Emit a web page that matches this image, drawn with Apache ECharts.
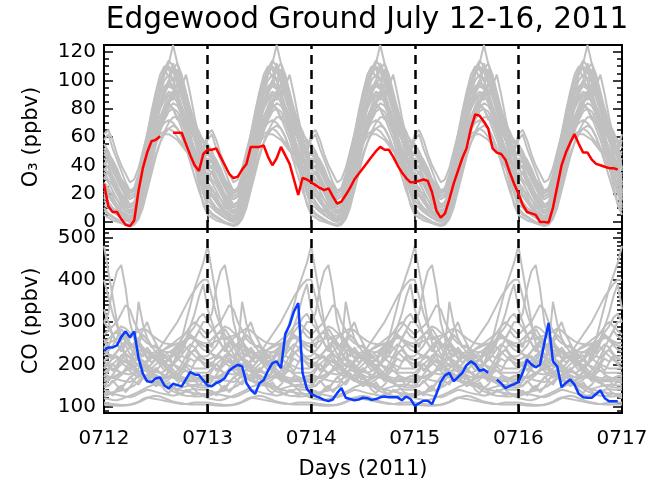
<!DOCTYPE html>
<html>
<head>
<meta charset="utf-8">
<script src="https://cdn.jsdelivr.net/npm/echarts@6/dist/echarts.min.js"></script>
<style>
  html, body { margin: 0; padding: 0; background: #fff; }
  #chart-container { width: 652px; height: 484px; }
</style>
</head>
<body>
<div id="chart-container"></div>
<script>
// day labels on the bottom axis
var dayLabels = ['0712', '0713', '0714', '0715', '0716', '0717'];
var dayMarks = [24, 48, 72, 96];

// observed O3 (ppbv), hourly from 0712 00h, null = missing
var o3Obs = [27, 11, 7, 7, 2, -2, -3, 1, 22, 38, 49, 57, 58, 60.5, null, null, 63, 63, 63, 55, 47, 40, 36, 48,
  51, 51, 52, 46, 40, 34, 31, 32, 37, 41, 53, 53, 53, 54, 46, 40, 45, 53, 47, 41, 30, 19, 31, 30,
  28, 26, 24, 22.5, 23.7, 18, 13, 14.3, 19, 24, 30, 34, 38, 42, 46, 50, 53, 51, 51, 46, 40, 35, 31, 28,
  28, 29, 30, 29, 21, 8, 3, 6, 16, 27, 36, 45, 52, 66, 76, 75, 71, 66, 52, 49, 48, 44, 35, 27,
  20, 12, 7, 6, 5, 0, 0, -0.5, 10, 25, 40, 49, 56, 62, 55, 49, 49, 44, 41, 40, 39, 38, 38, 37];

// observed CO (ppbv), hourly from 0712 00h
var coObs = [232, 240, 240, 245, 265, 278, 264, 278, 215, 178, 160, 158, 167, 169, 150, 143, 154, 151, 148, 165, 182, 176, 175, 162,
  150, 148, 156, 160, 168, 185, 193, 199, 195, 156, 140, 130, 155, 163, 185, 203, 207, 191, 272, 293, 325, 345, 180, 142,
  130, 125, 121, 116, 113, 117, 132, 144, 121, 118, 115, 117, 121, 120, 116, 118, 122, 124, 122, 122, 122, 115, 124, 118,
  102, 108, 114, 114, 106, 130, 158, 174, 180, 160, 170, 180, 198, 207, 200, 185, 188, 180, null, 164, 155, 144, 149, 153,
  158, 180, 211, 200, 193, 199, 250, 298, 207, 195, 146, 156, 164, 152, 130, 122, 121, 121, 130, 138, 120, 113, 113, 113];

// gray diurnal O3 curves (hour 0-23), same set drawn on every day
var o3Days = [
  [62, 65, 58, 48, 40, 34, 28, 30, 38, 50, 62, 74, 84, 92, 100, 104, 100, 92, 82, 74, 66, 60, 56, 52],
  [20, 14, 10, 6, 3, 1, 0, 2, 10, 24, 40, 56, 70, 82, 92, 100, 108, 112, 104, 92, 80, 70, 60, 50],
  [35, 30, 26, 20, 14, 10, 8, 10, 18, 30, 42, 52, 60, 66, 70, 72, 70, 66, 60, 52, 44, 38, 32, 28],
  [50, 46, 40, 34, 28, 22, 18, 20, 28, 42, 58, 74, 88, 98, 106, 112, 125, 112, 100, 86, 72, 60, 52, 46],
  [10, 6, 4, 2, 0, -2, -2, 0, 6, 16, 30, 44, 56, 66, 74, 80, 84, 82, 76, 66, 54, 42, 30, 20],
  [28, 24, 18, 12, 8, 4, 2, 4, 12, 26, 44, 62, 78, 92, 104, 110, 106, 98, 88, 78, 68, 58, 48, 40],
  [40, 44, 38, 30, 24, 18, 12, 14, 22, 36, 50, 62, 72, 80, 86, 90, 92, 88, 80, 70, 60, 52, 44, 38],
  [15, 12, 8, 5, 3, 2, 1, 3, 8, 18, 30, 42, 54, 64, 72, 78, 80, 78, 72, 64, 54, 44, 34, 24],
  [55, 50, 42, 36, 30, 24, 20, 22, 30, 44, 60, 76, 90, 100, 108, 114, 110, 100, 90, 80, 70, 62, 58, 56],
  [25, 20, 16, 12, 8, 6, 4, 6, 14, 28, 42, 56, 66, 74, 80, 82, 80, 74, 66, 58, 48, 40, 32, 26],
  [32, 28, 22, 16, 12, 8, 6, 8, 16, 28, 44, 60, 74, 86, 94, 100, 96, 88, 78, 68, 58, 50, 44, 38],
  [45, 42, 36, 30, 24, 20, 16, 18, 24, 34, 44, 52, 58, 62, 64, 66, 64, 60, 56, 52, 48, 44, 42, 40],
  [18, 14, 10, 8, 5, 3, 2, 4, 10, 22, 36, 50, 62, 72, 80, 86, 92, 96, 98, 90, 78, 64, 50, 36],
  [38, 34, 28, 22, 16, 12, 10, 12, 20, 34, 50, 66, 80, 90, 96, 98, 94, 88, 96, 104, 90, 74, 60, 48],
  [8, 5, 3, 1, 0, -1, -2, -1, 4, 14, 26, 38, 48, 56, 62, 66, 68, 66, 60, 52, 42, 32, 22, 14],
  [30, 36, 30, 24, 18, 14, 10, 12, 20, 32, 46, 60, 72, 82, 88, 92, 90, 84, 76, 66, 56, 48, 40, 34],
  [48, 44, 38, 32, 26, 20, 16, 18, 26, 38, 52, 66, 78, 86, 92, 96, 94, 108, 96, 82, 68, 58, 50, 46],
  [22, 18, 14, 10, 7, 5, 4, 6, 14, 26, 40, 54, 68, 80, 90, 98, 102, 100, 92, 82, 70, 58, 46, 34],
  [12, 10, 7, 5, 3, 1, 0, 2, 8, 20, 34, 48, 60, 70, 78, 84, 88, 86, 80, 72, 62, 50, 36, 22],
  [42, 38, 32, 26, 20, 16, 12, 14, 22, 32, 42, 50, 56, 60, 62, 62, 60, 58, 54, 50, 48, 46, 44, 42],
  [58, 62, 52, 44, 36, 28, 22, 24, 32, 46, 62, 78, 92, 104, 110, 108, 100, 90, 80, 72, 64, 58, 54, 50],
  [5, 3, 1, 0, -1, -2, -3, -2, 2, 10, 22, 34, 46, 56, 64, 70, 74, 74, 70, 62, 52, 40, 26, 12],
  [52, 48, 44, 38, 30, 26, 20, 24, 34, 46, 58, 68, 76, 74, 82, 90, 86, 94, 88, 78, 74, 66, 62, 58],
  [16, 20, 14, 10, 6, 4, 2, 6, 16, 30, 46, 60, 70, 66, 76, 84, 80, 72, 78, 70, 58, 50, 38, 30],
  [36, 40, 32, 26, 18, 12, 6, 8, 14, 24, 36, 48, 58, 68, 76, 84, 90, 98, 92, 84, 76, 70, 64, 56],
  [26, 22, 20, 16, 10, 8, 6, 10, 20, 34, 52, 70, 86, 96, 108, 102, 112, 104, 94, 86, 80, 68, 56, 44]
];

// gray diurnal CO curves (hour 0-23)
var coDays = [
  [480, 420, 360, 300, 250, 220, 200, 190, 180, 170, 165, 160, 158, 162, 170, 180, 200, 230, 260, 300, 340, 380, 410, 440],
  [300, 320, 380, 420, 435, 380, 300, 260, 230, 200, 190, 180, 175, 170, 168, 172, 178, 185, 200, 220, 240, 260, 280, 300],
  [140, 135, 130, 128, 126, 124, 122, 125, 130, 135, 140, 138, 135, 132, 130, 128, 126, 128, 132, 136, 140, 142, 140, 140],
  [110, 108, 106, 105, 104, 104, 105, 108, 112, 118, 122, 120, 118, 116, 114, 112, 110, 108, 106, 106, 108, 110, 110, 110],
  [220, 232, 244, 262, 284, 268, 252, 238, 348, 296, 262, 244, 228, 224, 206, 214, 198, 212, 220, 214, 228, 234, 222, 218],
  [180, 190, 200, 210, 220, 230, 240, 250, 260, 280, 300, 270, 250, 230, 220, 210, 200, 195, 190, 185, 180, 180, 180, 180],
  [250, 260, 270, 280, 290, 285, 275, 265, 250, 240, 230, 220, 215, 210, 205, 210, 220, 240, 250, 260, 265, 260, 255, 250],
  [160, 165, 170, 175, 180, 185, 190, 195, 200, 210, 200, 190, 185, 180, 175, 170, 168, 165, 163, 162, 160, 160, 160, 160],
  [200, 195, 190, 185, 180, 178, 176, 180, 190, 200, 210, 220, 225, 230, 235, 240, 245, 250, 245, 240, 230, 220, 210, 205],
  [130, 132, 134, 136, 138, 140, 145, 150, 160, 170, 175, 170, 165, 160, 155, 150, 145, 140, 138, 136, 134, 132, 130, 130],
  [240, 250, 255, 260, 262, 265, 268, 272, 278, 285, 280, 270, 262, 255, 250, 248, 246, 248, 252, 258, 262, 260, 250, 245],
  [150, 160, 175, 190, 200, 210, 205, 195, 185, 175, 168, 160, 155, 150, 148, 146, 144, 142, 145, 148, 150, 152, 152, 150],
  [120, 118, 116, 115, 118, 122, 126, 130, 135, 140, 146, 150, 155, 160, 165, 170, 175, 178, 170, 160, 150, 140, 130, 125],
  [190, 200, 215, 230, 245, 255, 240, 225, 210, 200, 195, 190, 200, 210, 220, 230, 225, 215, 205, 200, 195, 190, 190, 190],
  [270, 280, 290, 300, 320, 340, 330, 300, 280, 260, 250, 245, 240, 235, 230, 228, 235, 245, 260, 275, 290, 300, 290, 280],
  [165, 170, 168, 172, 178, 186, 190, 185, 175, 168, 160, 172, 185, 196, 205, 198, 188, 176, 170, 168, 165, 164, 165, 165],
  [330, 300, 270, 250, 235, 225, 215, 205, 200, 195, 190, 185, 182, 180, 184, 190, 200, 215, 235, 260, 290, 320, 360, 390],
  [105, 104, 103, 102, 102, 103, 104, 106, 110, 115, 120, 124, 126, 124, 120, 116, 112, 110, 108, 106, 105, 105, 105, 105],
  [210, 215, 220, 230, 240, 250, 262, 270, 255, 240, 228, 218, 210, 204, 200, 198, 202, 210, 222, 236, 248, 240, 225, 212],
  [175, 172, 168, 165, 162, 160, 158, 164, 175, 190, 205, 215, 220, 212, 200, 188, 178, 170, 165, 162, 160, 162, 168, 172],
  [230, 225, 220, 215, 210, 205, 200, 198, 196, 194, 192, 200, 212, 224, 236, 244, 250, 258, 266, 275, 270, 258, 245, 235],
  [125, 128, 132, 138, 146, 156, 168, 176, 182, 186, 184, 178, 170, 160, 150, 142, 136, 132, 128, 126, 125, 124, 124, 125],
  [400, 360, 320, 290, 270, 255, 245, 240, 235, 230, 228, 226, 230, 240, 255, 270, 285, 300, 320, 340, 360, 375, 390, 400],
  [145, 150, 158, 166, 175, 185, 195, 205, 215, 225, 232, 225, 215, 205, 195, 185, 175, 168, 160, 155, 150, 148, 146, 145],
  [260, 240, 270, 250, 230, 246, 224, 210, 232, 218, 240, 226, 212, 236, 222, 208, 230, 244, 226, 252, 270, 262, 280, 266],
  [190, 206, 184, 198, 222, 210, 196, 230, 214, 200, 188, 176, 192, 180, 168, 186, 172, 160, 178, 196, 184, 204, 216, 200],
  [155, 148, 162, 150, 140, 156, 170, 162, 176, 190, 182, 168, 174, 160, 148, 158, 144, 152, 166, 158, 172, 164, 150, 160],
  [300, 286, 270, 276, 258, 264, 248, 236, 250, 228, 214, 226, 210, 218, 200, 212, 230, 222, 246, 262, 276, 290, 310, 320],
  [210, 196, 202, 188, 176, 190, 206, 226, 244, 236, 218, 204, 214, 198, 186, 194, 180, 176, 188, 200, 214, 206, 220, 214],
  [170, 184, 200, 192, 210, 226, 216, 236, 250, 270, 258, 240, 246, 226, 214, 222, 200, 190, 180, 186, 176, 170, 166, 172],
  [240, 224, 212, 220, 204, 196, 184, 176, 168, 180, 162, 156, 170, 150, 158, 164, 176, 168, 190, 206, 224, 236, 250, 244],
  [130, 138, 126, 142, 150, 134, 146, 160, 152, 168, 176, 160, 148, 156, 140, 132, 144, 136, 128, 140, 134, 126, 132, 128]
];

var o3Ticks = [0, 20, 40, 60, 80, 100, 120];
var coTicks = [100, 200, 300, 400, 500];

var font = 'DejaVu Sans';

function steps(a, b, s) {
  var out = [];
  for (var v = a; v <= b + 1e-9; v += s) out.push(v);
  return out;
}

function hourly(arr) {
  return arr.map(function (v, i) { return [i, v == null ? '-' : v]; });
}

function repeatDays(prof) {
  var out = [];
  for (var d = 0; d < 5; d++) {
    for (var h = 0; h < 24; h++) out.push([d * 24 + h, prof[h]]);
  }
  out.push([120, prof[0]]);
  return out;
}

function yAxes(gridIndex, min, max, major, minor) {
  var base = {
    gridIndex: gridIndex, type: 'value', min: min, max: max,
    axisLine: { show: false }, splitLine: { show: false }
  };
  var tickStyle = { color: '#000', width: 1.5 };
  return [
    Object.assign({}, base, {
      position: 'left',
      axisTick: { inside: true, length: 9, lineStyle: tickStyle, customValues: major },
      axisLabel: { customValues: major, color: '#000', fontFamily: font, fontSize: 20, margin: 8 }
    }),
    Object.assign({}, base, {
      position: 'left',
      axisTick: { inside: true, length: 5, lineStyle: tickStyle, customValues: minor },
      axisLabel: { show: false }
    }),
    Object.assign({}, base, {
      position: 'right',
      axisTick: { inside: true, length: 9, lineStyle: tickStyle, customValues: major },
      axisLabel: { show: false }
    }),
    Object.assign({}, base, {
      position: 'right',
      axisTick: { inside: true, length: 5, lineStyle: tickStyle, customValues: minor },
      axisLabel: { show: false }
    })
  ];
}

var dom = document.getElementById('chart-container');
var myChart = echarts.init(dom, null, { renderer: 'canvas' });

var yAxis = yAxes(0, -5, 125, o3Ticks, steps(-5, 125, 5))
  .concat(yAxes(1, 85, 520, coTicks, steps(90, 520, 10)));
yAxis[0].name = 'O₃ (ppbv)';
yAxis[4].name = 'CO (ppbv)';
[0, 4].forEach(function (i) {
  yAxis[i].nameLocation = 'middle';
  yAxis[i].nameGap = 62;
  yAxis[i].nameTextStyle = { color: '#000', fontFamily: font, fontSize: 21 };
});

var dashes = {
  symbol: 'none', silent: true, label: { show: false },
  lineStyle: { color: '#000', type: [9, 6], width: 2.5 },
  data: dayMarks.map(function (d) { return { xAxis: d }; })
};

var series = [];
o3Days.forEach(function (p) {
  series.push({ type: 'line', xAxisIndex: 0, yAxisIndex: 0, data: repeatDays(p), symbol: 'none',
    lineStyle: { color: '#c0c0c0', width: 2 }, silent: true });
});
coDays.forEach(function (p) {
  series.push({ type: 'line', xAxisIndex: 1, yAxisIndex: 4, data: repeatDays(p), symbol: 'none',
    lineStyle: { color: '#c0c0c0', width: 2 }, silent: true });
});
series.push({ type: 'line', xAxisIndex: 0, yAxisIndex: 0, data: hourly(o3Obs), symbol: 'none',
  lineStyle: { color: '#ff0000', width: 2.5 }, z: 5, markLine: dashes });
series.push({ type: 'line', xAxisIndex: 1, yAxisIndex: 4, data: hourly(coObs), symbol: 'none',
  lineStyle: { color: '#0a3cff', width: 2.5 }, z: 5, markLine: dashes });

var option = {
  animation: false,
  backgroundColor: '#fff',
  title: {
    text: 'Edgewood Ground July 12-16, 2011',
    left: 362, top: 0, textAlign: 'center',
    textStyle: { color: '#000', fontFamily: font, fontSize: 29.5, fontWeight: 'normal' }
  },
  grid: [
    { left: 104, top: 45, width: 518, height: 184, show: true, borderColor: '#000', borderWidth: 2 },
    { left: 104, top: 229, width: 518, height: 184, show: true, borderColor: '#000', borderWidth: 2 }
  ],
  xAxis: [
    { gridIndex: 0, type: 'value', min: 0, max: 120, interval: 24,
      axisLine: { show: false }, splitLine: { show: false },
      axisTick: { inside: true, length: 9, lineStyle: { color: '#000', width: 1.5 } },
      axisLabel: { show: false } },
    { gridIndex: 1, type: 'value', min: 0, max: 120, interval: 24,
      axisLine: { show: false }, splitLine: { show: false },
      axisTick: { inside: true, length: 9, lineStyle: { color: '#000', width: 1.5 } },
      axisLabel: { color: '#000', fontFamily: font, fontSize: 20, margin: 16,
        formatter: function (v) { return dayLabels[Math.round(v / 24)]; } },
      name: 'Days (2011)', nameLocation: 'middle', nameGap: 46,
      nameTextStyle: { color: '#000', fontFamily: font, fontSize: 21 } }
  ],
  yAxis: yAxis,
  series: series
};

myChart.setOption(option);

window.addEventListener('resize', myChart.resize);
</script>
</body>
</html>
